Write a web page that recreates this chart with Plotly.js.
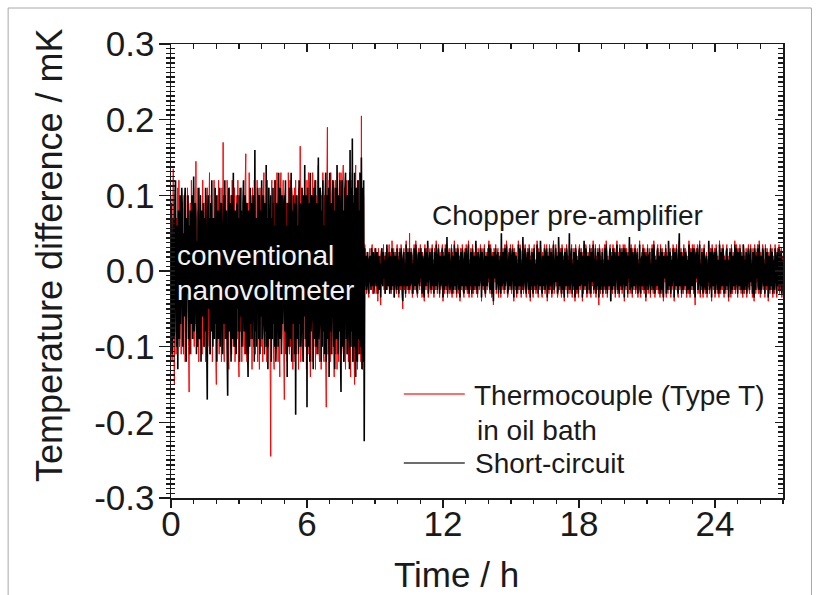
<!DOCTYPE html>
<html><head><meta charset="utf-8">
<script src="https://cdn.plot.ly/plotly-3.0.1.min.js"></script>
<style>html,body{margin:0;padding:0;background:#fff}#chart{width:820px;height:595px}</style>
</head><body><div id="chart"></div>
<script>
// sampling of the record (hours)
const sampleStepHours = 0.025;
const switchTimeHours = 8.5;

// Thermocouple (Type T) in oil bath, conventional nanovoltmeter part (mK), t = 0 .. 8.5 h
const redNano = [
.10,-.08,-.12,.06,.135,-.10,-.15,.09,.08,-.11,.07,-.09,.11,-.06,.12,-.10,-.07,.09,-.11,.08,
.09,-.07,-.11,.10,.06,-.12,.10,-.08,-.05,.11,.08,-.10,-.16,.07,.09,-.11,.12,-.06,.07,-.09,
.11,-.10,.08,-.07,.145,-.09,-.10,.06,.08,-.12,.11,-.08,.10,.05,-.07,-.11,.12,-.09,.09,-.10,
.07,-.12,.10,-.06,.11,-.10,-.08,.09,.13,-.11,-.07,.10,.09,-.12,.06,-.09,.12,-.08,.08,-.11,
-.15,.09,.10,-.07,.12,-.11,.08,-.09,.06,-.12,.11,-.08,.17,-.10,-.12,.09,.10,-.07,-.09,.12,
.08,-.10,-.13,.11,.07,-.09,.10,-.11,.12,-.06,-.10,.09,.11,-.12,-.07,.10,.08,-.09,.12,-.11,
-.14,.10,.09,-.08,.11,-.12,.07,-.10,.10,-.09,-.11,.12,.155,-.10,-.12,.08,.09,-.11,.13,-.07,
-.09,.10,.08,-.13,.11,-.08,-.10,.12,.09,-.11,.07,-.09,.12,-.12,.10,-.06,-.13,.11,.08,-.10,
.11,-.09,-.12,.10,.13,-.11,.07,-.10,.09,-.12,.12,-.08,-.10,.11,.08,-.13,-.245,.10,.12,-.09,
.09,-.11,-.13,.12,.11,-.08,-.10,.13,.08,-.12,.10,-.09,-.14,.11,.13,-.10,-.08,.09,.12,-.11,
-.17,.10,.11,-.09,.09,-.12,-.10,.13,.08,-.11,.12,-.10,-.08,.11,.10,-.13,.09,-.12,.11,-.09,
.12,-.11,-.09,.10,.08,-.13,.11,-.10,.165,-.12,-.09,.11,.10,-.11,-.12,.09,.12,-.10,.08,-.13,
.12,-.10,-.11,.13,.11,-.09,-.14,.10,.09,-.12,.13,-.08,-.10,.11,.12,-.13,.10,-.11,-.09,.12,
.14,-.10,-.12,.09,.11,-.13,.10,-.09,.13,-.11,-.12,.10,.09,-.12,-.18,.11,.19,-.11,-.10,.12,
.10,-.12,.13,-.09,-.11,.12,.11,-.10,-.14,.10,.12,-.11,.09,-.13,.11,-.10,-.12,.13,.10,-.09,
.13,-.11,-.10,.12,.14,-.12,.11,-.10,-.13,.09,.12,-.11,.10,-.12,-.09,.13,.11,-.14,.12,-.10,
.13,-.12,.10,-.11,-.15,.12,.14,-.10,.11,-.13,.12,-.11,-.10,.13,.11,-.12,.205,-.11,-.13,.10,
.10
];
// Thermocouple, chopper pre-amplifier part (mK), t = 8.525 .. 27 h
const redChopper = [
-.12,.035,-.02,.015,-.03,.025,.02,-.025,-.035,.02,.03,-.015,-.02,.025,.035,-.03,.015,-.025,-.02,.03,
.025,-.03,-.015,.02,-.04,.03,.015,-.025,.02,-.045,.025,.03,-.02,-.015,.035,-.025,.02,-.03,.025,-.02,
.03,-.025,-.02,.015,.035,-.03,.025,-.015,-.03,.04,.02,-.025,.03,-.035,.015,.025,-.02,-.03,.035,-.025,
.02,-.035,.03,-.015,-.025,.035,.025,-.03,-.05,.02,.03,-.025,.015,-.035,.04,-.02,-.025,.03,.015,-.03,
.05,-.025,-.02,.03,.025,-.035,.015,-.03,.035,-.015,-.025,.04,.02,-.03,-.035,.025,.03,-.02,-.025,.035,
-.015,.03,-.035,.025,.02,-.03,-.04,.035,.015,-.025,.03,-.02,.035,-.035,-.025,.02,.03,-.015,-.03,.025,
.035,-.025,.015,-.035,.03,-.02,-.025,.04,.025,-.03,-.015,.035,.02,-.035,.025,-.025,-.02,.03,.035,-.04,
.025,-.015,-.03,.035,.02,-.025,.035,-.035,-.02,.025,.03,-.03,-.025,.015,.035,-.035,.025,-.02,-.03,.04,
.015,-.025,.03,-.035,-.02,.035,.025,-.03,.02,-.04,.03,-.015,-.025,.035,.025,-.03,-.035,.02,.03,-.025,
.035,-.02,-.03,.025,.04,-.035,.015,-.025,.03,-.015,-.035,.035,.02,-.03,.025,-.025,-.02,.035,-.03,.025,
-.035,.03,.02,-.025,-.015,.035,.025,-.04,.03,-.02,-.025,.015,.035,-.03,-.035,.025,.02,-.025,.03,-.015,
.04,-.025,-.03,.035,.015,-.035,.025,-.02,-.045,.03,.025,-.015,.035,-.03,-.02,.025,.03,-.035,.02,-.025,
.025,-.035,.03,-.025,-.02,.03,.015,-.03,.035,-.025,-.015,.04,.025,-.035,-.03,.02,.03,-.025,.035,-.02,
-.03,.025,.035,-.015,-.04,.03,.02,-.025,.025,-.035,.015,-.03,.04,-.02,-.025,.035,.03,-.035,.015,-.025,
.035,-.03,-.02,.025,.035,-.025,-.035,.02,.03,-.015,-.03,.035,.025,-.04,.02,-.025,.03,-.02,-.035,.025,
.035,-.025,.015,-.03,-.02,.04,.025,-.035,.03,-.015,-.025,.035,.02,-.03,-.035,.025,.015,-.025,.035,-.03,
-.02,.03,.035,-.04,.025,-.015,-.03,.035,.02,-.025,.03,-.035,-.02,.025,.04,-.03,-.025,.015,.035,-.02,
.025,-.035,-.03,.035,.015,-.025,.03,-.02,-.035,.035,.025,-.03,.02,-.04,.03,-.015,-.025,.035,.025,-.035,
.02,-.025,.035,-.03,-.02,.025,.035,-.035,.015,-.025,.03,-.02,-.04,.035,.025,-.03,.02,-.015,-.035,.03,
.035,-.025,-.02,.03,.015,-.04,.025,-.03,.035,-.02,-.025,.035,.03,-.035,-.015,.025,.02,-.03,.035,-.025,
-.035,.03,.025,-.02,.04,-.03,-.025,.015,.035,-.035,.02,-.025,.03,-.015,-.045,.035,.025,-.03,.02,-.025,
.03,-.035,.015,-.025,.035,-.02,-.03,.04,.025,-.035,.02,-.015,-.025,.03,.035,-.04,.025,-.02,-.03,.035,
.02,-.025,.03,-.035,-.015,.025,.04,-.03,.025,-.02,-.035,.035,.015,-.025,.03,-.03,-.02,.035,.025,-.04,
.035,-.02,-.025,.03,.02,-.035,.025,-.015,.035,-.03,-.025,.035,.015,-.035,.03,-.02,-.025,.025,.035,-.03,
-.02,.025,.03,-.035,.015,-.025,.04,-.03,-.035,.02,.025,-.025,.035,-.015,-.03,.03,.02,-.04,.025,-.025,
.035,-.03,-.02,.025,.03,-.035,.015,-.025,.035,-.02,-.03,.04,.025,-.035,.02,-.015,-.025,.03,.035,-.03,
.025,-.02,-.035,.035,.015,-.03,.03,-.025,-.04,.025,.02,-.015,.035,-.035,.025,-.02,-.03,.035,.015,-.025,
.03,-.035,.02,-.025,-.015,.035,.025,-.04,.03,-.02,-.025,.035,.02,-.03,-.035,.025,.04,-.025,-.02,.03,
-.035,.025,.015,-.03,.035,-.02,-.025,.03,.025,-.035,.02,-.015,-.03,.04,.025,-.035,.03,-.02,-.025,.035,
.02,-.03,.035,-.025,-.045,.025,.03,-.015,.035,-.03,-.02,.025,.04,-.035,.015,-.025,.03,-.02,-.035,.025,
.035,-.025,-.03,.02,.025,-.035,.015,-.02,.035,-.03,-.025,.03,.02,-.04,.035,-.015,-.025,.025,.03,-.035,
-.02,.035,.025,-.03,.02,-.025,-.035,.04,.015,-.03,.03,-.02,-.025,.035,.025,-.035,.02,-.015,-.03,.03,
.035,-.025,.02,-.04,-.015,.03,.025,-.035,.035,-.02,-.03,.025,.015,-.025,.04,-.03,-.02,.035,.025,-.035,
.03,-.02,-.025,.035,.02,-.03,.025,-.015,-.035,.035,.025,-.03,.02,-.025,.03,-.035,-.02,.025,.035,-.025,
-.03,.025,.035,-.02,.015,-.035,.03,-.025,-.04,.035,.02,-.03,.025,-.015,.035,-.025,-.03,.04,.02,-.035,
.025,-.03,-.02,.035,.03,-.025,.015,-.035,.035,-.02,-.025,.03,.02,-.04,.025,-.015,-.03,.035,.025,-.025,
.03,-.035,.02,-.025,-.03,.035,.025,-.02,-.035,.03,.015,-.025,.035,-.03,-.02,.025,.03,-.035,.02,-.025
];
// Short-circuit, conventional nanovoltmeter part (mK), t = 0 .. 8.5 h
const blackNano = [
.09,-.06,-.11,.04,.07,-.09,-.08,.10,.12,-.05,-.10,.06,-.13,.08,.03,-.09,.10,-.07,-.04,.11,
.08,-.10,.05,-.06,.09,.11,-.08,-.12,.07,-.03,.10,-.09,.06,-.11,.08,.05,-.07,.10,-.09,.06,
.125,-.08,-.05,.09,.07,-.11,.04,-.10,.11,.06,-.09,-.07,.10,-.12,.08,.05,-.06,.09,-.10,.07,
-.08,.11,.06,-.09,-.17,.08,.10,-.05,.07,-.11,.09,-.08,.12,-.06,-.10,.07,.05,-.09,.11,-.07,
.10,-.12,.06,.08,-.09,-.05,.11,-.10,.07,.09,-.08,-.11,.06,.10,-.07,.12,-.09,-.06,.08,-.10,
-.165,.07,.11,-.08,.09,-.06,-.12,.10,.05,-.09,.13,-.07,-.10,.08,.06,-.11,.09,-.05,.10,-.08,
.07,-.12,.11,-.06,.08,-.10,-.07,.09,.12,-.08,-.05,.10,-.11,.07,.09,-.09,-.14,.08,.06,-.10,
.11,-.07,.09,-.09,-.06,.10,.08,-.12,.16,-.08,.07,-.10,-.05,.11,.06,-.09,.10,-.11,.08,-.06,
.12,-.09,-.07,.10,.06,-.11,.09,-.08,.14,-.10,.07,-.13,.11,-.06,-.09,.08,.10,-.12,.07,-.09,
.11,-.07,.06,-.10,.12,-.12,-.08,.09,.07,-.10,.13,-.06,-.09,.11,.08,-.11,.10,-.07,-.05,.09,
.10,-.08,.12,-.11,.06,-.14,.09,.07,-.10,.11,-.06,-.09,.13,-.12,.08,-.07,.10,.05,-.11,.09,
-.19,.10,.08,-.09,.06,-.11,.12,-.07,.09,-.10,-.08,.11,.07,-.12,.10,-.06,.14,-.09,-.07,.10,
-.18,.11,.07,-.10,.09,-.12,.13,-.08,-.06,.10,.08,-.13,.11,-.09,.07,.12,-.10,-.08,.09,-.11,
.15,-.09,-.07,.11,.10,-.12,.08,-.10,.12,-.08,.06,-.11,.09,.13,-.12,-.07,.10,-.09,.11,-.14,
.13,-.08,.09,-.11,-.06,.10,.12,-.10,.08,-.13,.11,-.07,-.09,.14,.07,-.11,.10,-.08,.12,-.10,
-.16,.09,.12,-.10,.08,-.12,-.07,.11,.13,-.09,.10,-.11,-.08,.12,.09,-.13,.16,-.10,.11,-.08,
.175,-.12,.09,-.10,.13,-.08,-.14,.11,.10,-.12,.12,-.09,.08,-.11,.13,-.10,.15,-.13,.11,-.12,
.12
];
// Short-circuit, chopper pre-amplifier part (mK), t = 8.525 .. 27 h
const blackChopper = [
-.225,.03,-.015,.02,-.025,.01,.025,-.02,-.03,.015,.02,-.01,-.025,.03,.01,-.02,.025,-.03,-.015,.02,
.03,-.02,-.01,.025,-.03,.015,.02,-.025,.01,-.035,.02,.03,-.015,-.02,.025,-.01,.015,-.03,.02,-.025,
.035,-.015,-.02,.01,.025,-.03,.02,-.01,-.025,.03,.015,-.02,.025,-.035,.01,.02,-.015,-.025,.03,-.02,
.015,-.03,.025,-.01,-.02,.03,.02,-.025,-.04,.015,.025,-.02,.01,-.03,.035,-.015,-.02,.025,.01,-.025,
.03,-.02,-.015,.025,.02,-.03,.01,-.025,.03,-.01,-.02,.035,.015,-.025,-.03,.02,.025,-.015,-.02,.03,
-.01,.025,-.03,.02,.015,-.025,-.035,.03,.01,-.02,.025,-.015,.04,-.03,-.02,.015,.025,-.01,-.025,.02,
.03,-.02,.01,-.03,.025,-.015,-.02,.035,.02,-.025,-.01,.03,.015,-.03,.02,-.02,-.015,.025,.03,-.035,
.02,-.01,-.025,.03,.015,-.02,.045,-.03,-.015,.02,.025,-.025,-.02,.01,.03,-.03,.02,-.015,-.025,.035,
.01,-.02,.025,-.03,-.015,.03,.02,-.025,.015,-.035,.025,-.01,-.02,.03,.02,-.025,-.03,.015,.025,-.02,
.03,-.015,-.025,.02,.035,-.03,.01,-.02,.025,-.01,-.03,.03,.015,-.025,.02,-.02,-.015,.04,-.025,.02,
-.03,.025,.015,-.02,-.01,.03,.02,-.035,.025,-.015,-.02,.01,.03,-.025,-.03,.02,.015,-.02,.025,-.01,
.035,-.02,-.025,.03,.01,-.03,.02,-.015,-.04,.025,.02,-.01,.03,-.025,-.015,.02,.025,-.03,.015,-.02,
.02,-.03,.05,-.02,-.015,.025,.01,-.025,.03,-.02,-.01,.035,.02,-.03,-.025,.015,.025,-.02,.03,-.015,
-.025,.02,.03,-.01,-.035,.025,.015,-.02,.02,-.03,.01,-.025,.035,-.015,-.02,.03,.025,-.03,.01,-.02,
.045,-.025,-.015,.02,.03,-.02,-.03,.015,.025,-.01,-.025,.03,.02,-.035,.015,-.02,.025,-.015,-.03,.02,
.03,-.02,.01,-.025,-.015,.035,.02,-.03,.025,-.01,-.02,.04,.015,-.025,-.03,.02,.01,-.02,.03,-.025,
-.015,.025,.03,-.035,.02,-.01,-.025,.03,.015,-.02,.025,-.03,-.015,.02,.035,-.025,-.02,.01,.03,-.015,
.02,-.03,-.025,.045,.01,-.02,.025,-.015,-.03,.03,.02,-.025,.015,-.035,.025,-.01,-.02,.03,.02,-.03,
.015,-.02,.05,-.025,-.015,.02,.03,-.03,.01,-.02,.025,-.015,-.035,.03,.02,-.025,.015,-.01,-.03,.025,
.03,-.02,-.015,.025,.01,-.035,.02,-.025,.04,-.015,-.02,.03,.025,-.03,-.01,.02,.015,-.025,.03,-.02,
-.03,.025,.02,-.015,.035,-.025,-.02,.01,.03,-.03,.015,-.02,.025,-.01,-.035,.03,.02,-.025,.015,-.02,
.025,-.03,.01,-.02,.03,-.015,-.025,.035,.02,-.03,.015,-.01,-.02,.025,.03,-.04,.02,-.015,-.025,.03,
.015,-.02,.025,-.03,-.01,.02,.035,-.025,.02,-.015,-.03,.03,.01,-.02,.025,-.025,-.015,.03,.02,-.035,
.03,-.015,-.02,.025,.015,-.03,.02,-.01,.045,-.025,-.02,.03,.01,-.03,.025,-.015,-.02,.02,.03,-.025,
-.015,.02,.025,-.03,.01,-.02,.035,-.025,-.03,.015,.02,-.02,.03,-.01,-.025,.025,.015,-.035,.02,-.02,
.03,-.025,-.015,.02,.025,-.03,.01,-.02,.03,-.015,-.025,.035,.02,-.03,.015,-.01,-.02,.025,.03,-.025,
.02,-.015,-.03,.03,.01,-.025,.025,-.02,-.035,.02,.015,-.01,.03,-.03,.02,-.015,-.025,.04,.01,-.02,
.025,-.03,.015,-.02,-.01,.03,.02,-.035,.025,-.015,-.02,.03,.015,-.025,-.03,.02,.05,-.02,-.015,.025,
-.03,.02,.01,-.025,.03,-.015,-.02,.025,.02,-.03,.015,-.01,-.025,.035,.02,-.03,.025,-.015,-.02,.03,
.015,-.025,.03,-.02,-.035,.02,.025,-.01,.03,-.025,-.015,.02,.035,-.03,.01,-.02,.025,-.015,-.03,.02,
.03,-.02,-.025,.015,.02,-.03,.01,-.015,.04,-.025,-.02,.025,.015,-.035,.03,-.01,-.02,.02,.025,-.03,
-.015,.03,.02,-.025,.015,-.02,-.03,.035,.01,-.025,.025,-.015,-.02,.03,.02,-.03,.015,-.01,-.025,.025,
.03,-.02,.015,-.035,-.01,.025,.02,-.03,.03,-.015,-.025,.02,.01,-.02,.035,-.025,-.015,.03,.02,-.03,
.025,-.015,-.02,.03,.015,-.025,.02,-.01,-.03,.035,.02,-.025,.015,-.02,.025,-.03,-.015,.02,.03,-.02,
-.025,.02,.03,-.015,.01,-.03,.025,-.02,-.035,.03,.015,-.025,.02,-.01,.03,-.02,-.025,.035,.015,-.03,
.02,-.025,-.015,.03,.025,-.02,.01,-.03,.03,-.015,-.02,.025,.015,-.035,.02,-.01,-.025,.03,.02,-.02,
.025,-.03,.015,-.02,-.025,.03,.02,-.015,-.03,.025,.01,-.02,.03,-.025,-.015,.02,.025,-.03,.015,-.02
];

const xTickValues = [0, 6, 12, 18, 24];
const xTickLabels = ['0', '6', '12', '18', '24'];
const yTickValues = [-0.3, -0.2, -0.1, 0, 0.1, 0.2, 0.3];
const yTickLabels = ['-0.3', '-0.2', '-0.1', '0.0', '0.1', '0.2', '0.3'];
const seriesLabels = ['Thermocouple (Type T)', 'in oil bath', 'Short-circuit'];
const regionLabels = ['conventional', 'nanovoltmeter', 'Chopper pre-amplifier'];
const axisTitles = ['Time / h', 'Temperature difference / mK'];

function nanoTimes(arr) { return arr.map((_, i) => +(i * sampleStepHours).toFixed(3)); }
function chopperTimes(arr) { return arr.map((_, i) => +(switchTimeHours + (i + 1) * sampleStepHours).toFixed(3)); }

const redX = nanoTimes(redNano).concat(chopperTimes(redChopper));
const redY = redNano.concat(redChopper);
const blackX = nanoTimes(blackNano).concat(chopperTimes(blackChopper));
const blackY = blackNano.concat(blackChopper);

const FONT = 'Liberation Sans, Arial, Helvetica, sans-serif';
const INK = '#1a1a1a';

const traces = [
  {type: 'scatter', mode: 'lines', x: redX, y: redY, name: seriesLabels[0] + ' ' + seriesLabels[1],
   line: {color: 'rgb(255,0,0)', width: 1, simplify: false}, showlegend: false, hoverinfo: 'skip'},
  {type: 'scatter', mode: 'lines', x: blackX, y: blackY, name: seriesLabels[2],
   line: {color: 'rgb(0,0,0)', width: 1.6, simplify: false}, showlegend: false, hoverinfo: 'skip'},
  {type: 'scatter', mode: 'markers', x: [], y: [], xaxis: 'x2', yaxis: 'y', showlegend: false, hoverinfo: 'skip'},
  {type: 'scatter', mode: 'markers', x: [], y: [], xaxis: 'x', yaxis: 'y2', showlegend: false, hoverinfo: 'skip'},
  {type: 'scatter', mode: 'markers', x: [], y: [], xaxis: 'x', yaxis: 'y3', showlegend: false, hoverinfo: 'skip'}
];

const tickFont = {family: FONT, size: 35, color: INK};
const common = {showgrid: false, zeroline: false, fixedrange: true, tickcolor: INK, tickwidth: 1.5, linecolor: INK, linewidth: 1.5};

// paper-coordinate helpers based on the plot box (171..783.5 px, 44..498 px)
const L = 171, R = 783.5, T = 44, B = 498;
const px = v => (v - L) / (R - L);
const py = v => (B - v) / (B - T);

const layout = {
  width: 820, height: 595,
  margin: {l: L, r: 820 - R, t: T, b: 595 - B, pad: 0},
  paper_bgcolor: '#fff', plot_bgcolor: '#fff',
  showlegend: false,
  font: {family: FONT, color: INK},
  xaxis: Object.assign({}, common, {
    range: [0, 27], tickmode: 'array', tickvals: xTickValues, ticktext: xTickLabels,
    ticks: 'outside', ticklen: 8, showline: true, tickfont: tickFont, anchor: 'y', ticklabelstandoff: -14,
    minor: {tickmode: 'linear', tick0: 0, dtick: 1, ticks: 'outside', ticklen: 4, tickwidth: 1.5, tickcolor: INK, showgrid: false}
  }),
  xaxis2: Object.assign({}, common, {
    overlaying: 'x', side: 'top', anchor: 'y', range: [0, 27], tickmode: 'array', tickvals: xTickValues,
    ticks: 'inside', ticklen: 8, showline: true, showticklabels: false,
    minor: {tickmode: 'linear', tick0: 0, dtick: 1, ticks: 'inside', ticklen: 5, tickwidth: 1.5, tickcolor: INK, showgrid: false}
  }),
  yaxis: Object.assign({}, common, {
    range: [-0.3, 0.3], tickmode: 'array', tickvals: yTickValues, ticktext: yTickLabels,
    ticks: 'outside', ticklen: 11, showline: true, tickfont: tickFont, anchor: 'x', ticklabelstandoff: -3,
    minor: {tickmode: 'linear', tick0: 0, dtick: 0.00625, ticks: 'outside', ticklen: 4, tickwidth: 1.5, tickcolor: INK, showgrid: false}
  }),
  yaxis2: Object.assign({}, common, {
    overlaying: 'y', side: 'left', anchor: 'x', range: [-0.3, 0.3], tickmode: 'array', tickvals: yTickValues,
    ticks: 'inside', ticklen: 4, showline: false, showticklabels: false,
    minor: {tickmode: 'linear', tick0: 0, dtick: 0.00625, ticks: 'inside', ticklen: 4, tickwidth: 1.5, tickcolor: INK, showgrid: false}
  }),
  yaxis3: Object.assign({}, common, {
    overlaying: 'y', side: 'right', anchor: 'x', range: [-0.3, 0.3], tickmode: 'array', tickvals: yTickValues,
    ticks: 'inside', ticklen: 8, showline: true, showticklabels: false,
    minor: {tickmode: 'linear', tick0: 0, dtick: 0.00625, ticks: 'inside', ticklen: 5, tickwidth: 1.5, tickcolor: INK, showgrid: false}
  }),
  shapes: [
    {type: 'rect', xref: 'paper', yref: 'paper', x0: px(8), x1: px(812), y0: py(603), y1: py(8),
     line: {color: '#a8a8a8', width: 1}, fillcolor: 'rgba(0,0,0,0)', layer: 'below'},
    {type: 'line', xref: 'paper', yref: 'paper', x0: px(404), x1: px(465), y0: py(394), y1: py(394),
     line: {color: 'rgb(255,60,60)', width: 1.5}},
    {type: 'line', xref: 'paper', yref: 'paper', x0: px(404), x1: px(465), y0: py(463), y1: py(463),
     line: {color: 'rgb(60,60,60)', width: 1.5}}
  ],
  annotations: [
    {xref: 'paper', yref: 'paper', x: px(472), y: py(395), xanchor: 'left', yanchor: 'middle', showarrow: false,
     text: seriesLabels[0], font: {family: FONT, size: 28, color: INK}},
    {xref: 'paper', yref: 'paper', x: px(475), y: py(430), xanchor: 'left', yanchor: 'middle', showarrow: false,
     text: seriesLabels[1], font: {family: FONT, size: 28, color: INK}},
    {xref: 'paper', yref: 'paper', x: px(473), y: py(463), xanchor: 'left', yanchor: 'middle', showarrow: false,
     text: seriesLabels[2], font: {family: FONT, size: 28, color: INK}},
    {xref: 'paper', yref: 'paper', x: px(175), y: py(256), xanchor: 'left', yanchor: 'middle', showarrow: false,
     text: regionLabels[0], font: {family: FONT, size: 28, color: '#f2f2f2'}},
    {xref: 'paper', yref: 'paper', x: px(175), y: py(290), xanchor: 'left', yanchor: 'middle', showarrow: false,
     text: regionLabels[1], font: {family: FONT, size: 28, color: '#f2f2f2'}},
    {xref: 'paper', yref: 'paper', x: px(568), y: py(216), xanchor: 'center', yanchor: 'middle', showarrow: false,
     text: regionLabels[2], font: {family: FONT, size: 28, color: INK}},
    {xref: 'paper', yref: 'paper', x: px(457), y: py(574), xanchor: 'center', yanchor: 'middle', showarrow: false,
     text: axisTitles[0], font: {family: FONT, size: 35, color: INK}},
    {xref: 'paper', yref: 'paper', x: px(50), y: py(255), xanchor: 'center', yanchor: 'middle', showarrow: false,
     text: axisTitles[1], textangle: -90, font: {family: FONT, size: 36, color: INK}}
  ]
};

Plotly.newPlot('chart', traces, layout, {staticPlot: true, displayModeBar: false});
</script>
</body></html>
